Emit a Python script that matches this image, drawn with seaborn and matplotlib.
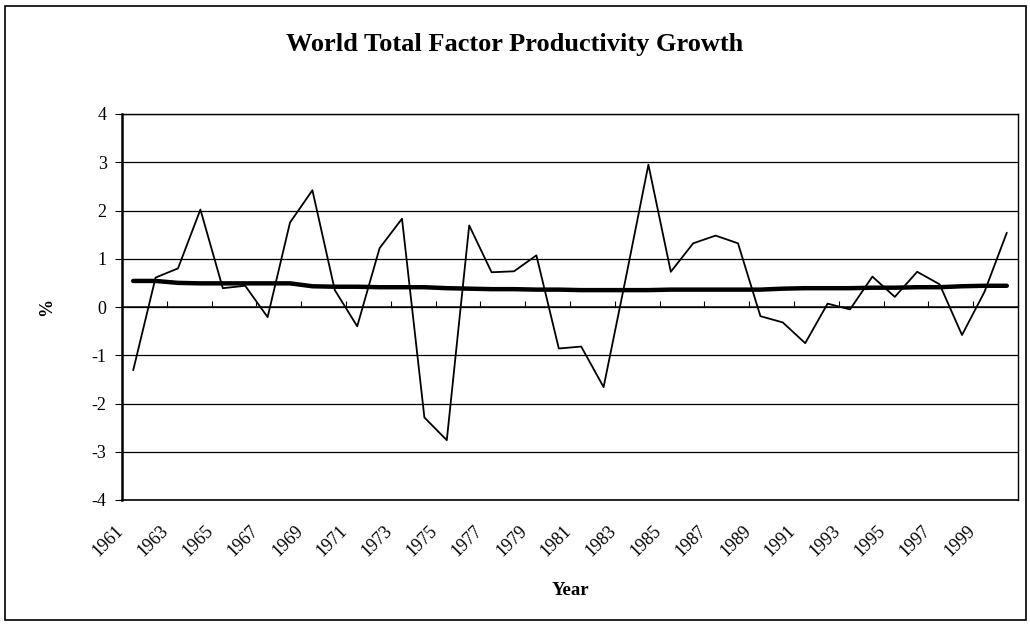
import numpy as np
import pandas as pd
import matplotlib
matplotlib.use("Agg")
import matplotlib.pyplot as plt
from matplotlib.patches import Rectangle
from matplotlib.transforms import ScaledTranslation
import seaborn as sns

# Annual world TFP growth (%) and its smoothed trend, 1961-2000
years = list(range(1961, 2001))
tfp_growth = [
    -1.31, 0.61, 0.80, 2.02, 0.39, 0.44, -0.21, 1.75, 2.42, 0.35,
    -0.40, 1.22, 1.83, -2.29, -2.76, 1.69, 0.72, 0.74, 1.07, -0.86,
    -0.82, -1.66, 0.62, 2.95, 0.73, 1.32, 1.48, 1.32, -0.19, -0.32,
    -0.75, 0.07, -0.05, 0.63, 0.21, 0.73, 0.47, -0.58, 0.31, 1.54,
]
trend = [
    0.54, 0.54, 0.50, 0.49, 0.49, 0.49, 0.49, 0.49, 0.43, 0.42,
    0.42, 0.41, 0.41, 0.41, 0.39, 0.38, 0.37, 0.37, 0.36, 0.36,
    0.35, 0.35, 0.35, 0.35, 0.36, 0.36, 0.36, 0.36, 0.36, 0.38,
    0.39, 0.39, 0.39, 0.40, 0.40, 0.41, 0.41, 0.43, 0.44, 0.44,
]
year_labels = [str(y) for y in range(1961, 2000, 2)]
y_ticks = [4, 3, 2, 1, 0, -1, -2, -3, -4]

df = pd.DataFrame({"Year": years, "TFP": tfp_growth, "Trend": trend})

sns.set_theme(style="white")
plt.rcParams["font.family"] = ["Liberation Serif", "DejaVu Serif"]
plt.rcParams["text.color"] = "black"
plt.rcParams["axes.labelcolor"] = "black"
plt.rcParams["xtick.color"] = "black"
plt.rcParams["ytick.color"] = "black"

fig = plt.figure(figsize=(10.30, 6.24), dpi=100)
ax = fig.add_axes([122 / 1030, 1 - 500 / 624, (1018 - 122) / 1030, (500 - 114) / 624])

# horizontal gridlines at every whole percent
for v in y_ticks:
    ax.axhline(v, color="black", lw=0.9, zorder=1)

sns.lineplot(data=df, x="Year", y="TFP", ax=ax, color="black", lw=1.3, zorder=3)
sns.lineplot(data=df, x="Year", y="Trend", ax=ax, color="black", lw=3.2, zorder=2)

ax.set_xlim(1960.5, 2000.5)
ax.set_ylim(-4, 4)
ax.set_yticks(y_ticks)
ax.set_yticklabels([str(v) for v in y_ticks], fontsize=13)
ax.tick_params(axis="y", direction="out", length=5, width=0.8, color="black", pad=6, left=True)

ax.set_xticks(list(range(1961, 2000, 2)))
ax.set_xticklabels(year_labels, rotation=45, ha="right", rotation_mode="anchor", fontsize=13)
ax.tick_params(axis="x", length=0, pad=16, bottom=True)
shift = ScaledTranslation(-18 / 100, 0, fig.dpi_scale_trans)
for lbl in ax.get_xticklabels():
    lbl.set_transform(lbl.get_transform() + shift)

# category axis drawn through zero with small marks between year pairs
zero_axis = ax.secondary_xaxis(0.5)
zero_axis.set_xticks(np.arange(1960.5, 2001, 2))
zero_axis.set_xticklabels([])
zero_axis.tick_params(axis="x", direction="out", length=4, width=0.8, color="black")
zero_axis.spines["bottom"].set_linewidth(0.9)

for side in ["left", "bottom", "top", "right"]:
    ax.spines[side].set_visible(True)
    ax.spines[side].set_color("black")
ax.spines["left"].set_linewidth(1.8)
ax.spines["bottom"].set_linewidth(1.2)
ax.spines["top"].set_linewidth(1.0)
ax.spines["right"].set_linewidth(1.0)

ax.set_xlabel("Year", fontsize=13.5, fontweight="bold", labelpad=16)
ax.set_ylabel("%", fontsize=13, fontweight="bold", labelpad=26)

fig.text(515 / 1030, 1 - 45 / 624, "World Total Factor Productivity Growth",
         ha="center", va="center", fontsize=19, fontweight="bold")

# chart frame
fig.patches.append(Rectangle((5 / 1030, 4 / 624), 1021 / 1030, 614 / 624,
                             transform=fig.transFigure, fill=False,
                             edgecolor="black", lw=1.2))

fig.savefig("out.png", dpi=100, facecolor="white")
